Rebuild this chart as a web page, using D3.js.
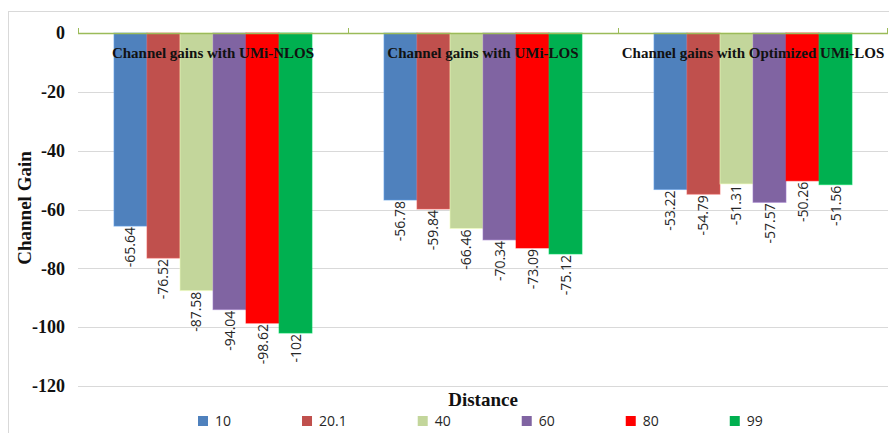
<!DOCTYPE html>
<html>
<head>
<meta charset="utf-8">
<script src="https://cdn.jsdelivr.net/npm/d3@7"></script>
<style>
  html, body { margin: 0; padding: 0; background: #fff; }
  svg { display: block; }
</style>
</head>
<body>
<svg id="chart" width="889" height="433"></svg>
<script>
// ---- data ----
const groups = ["Channel gains with UMi-NLOS", "Channel gains with UMi-LOS", "Channel gains with Optimized UMi-LOS"];
const seriesNames = ["10", "20.1", "40", "60", "80", "99"];
const seriesColors = ["#4f81bd", "#c0504d", "#c3d69b", "#8064a2", "#ff0000", "#00b050"];
const valuesNLOS = [-65.64, -76.52, -87.58, -94.04, -98.62, -102];
const valuesLOS = [-56.78, -59.84, -66.46, -70.34, -73.09, -75.12];
const valuesOptLOS = [-53.22, -54.79, -51.31, -57.57, -50.26, -51.56];
const valueLabels = [
  ["-65.64", "-76.52", "-87.58", "-94.04", "-98.62", "-102"],
  ["-56.78", "-59.84", "-66.46", "-70.34", "-73.09", "-75.12"],
  ["-53.22", "-54.79", "-51.31", "-57.57", "-50.26", "-51.56"]
];
const yTicks = [0, -20, -40, -60, -80, -100, -120];
const yTitle = "Channel Gain";
const xTitle = "Distance";

const groupValues = [valuesNLOS, valuesLOS, valuesOptLOS];
const table = groups.map((g, gi) => ({
  group: g,
  bars: seriesNames.map((s, si) => ({ series: s, value: groupValues[gi][si], label: valueLabels[gi][si], color: seriesColors[si] }))
}));

// ---- layout ----
const svg = d3.select("#chart");
const plot = { left: 78, right: 888, top: 33, bottom: 386 };

// outer border
svg.append("rect").attr("x", 8.5).attr("y", 11.5).attr("width", 900).attr("height", 500)
  .attr("fill", "none").attr("stroke", "#d9d9d9").attr("stroke-width", 1);

const y = d3.scaleLinear().domain([-120, 0]).range([plot.bottom, plot.top]);
const x0 = d3.scaleBand().domain(groups).range([plot.left, plot.right]).paddingInner(0).paddingOuter(0);
const x1 = d3.scaleBand().domain(seriesNames).range([0, x0.bandwidth()]).paddingInner(0).paddingOuter(1.09);

const serif = "'Liberation Serif', 'Times New Roman', serif";
const sans = "'Open Sans', 'Noto Sans', sans-serif";

// gridlines
svg.append("g").selectAll("line").data(yTicks.filter(d => d !== 0)).join("line")
  .attr("x1", plot.left).attr("x2", plot.right)
  .attr("y1", d => Math.round(y(d)) + 0.5).attr("y2", d => Math.round(y(d)) + 0.5)
  .attr("stroke", "#d9d9d9").attr("stroke-width", 1);

// y axis labels
const yAxis = d3.axisLeft(y).tickValues(yTicks).tickSize(0).tickPadding(0).tickFormat(d => d === 0 ? "0" : String(d));
const gy = svg.append("g").attr("transform", `translate(${plot.left - 13},0)`).call(yAxis);
gy.select(".domain").remove();
gy.selectAll("text").attr("font-family", serif).attr("font-weight", "bold").attr("font-size", 18).attr("fill", "#111");

// bars
const gGroups = svg.append("g").selectAll("g").data(table).join("g")
  .attr("transform", d => `translate(${x0(d.group)},0)`);

gGroups.selectAll("rect").data(d => d.bars).join("rect")
  .attr("x", d => x1(d.series))
  .attr("width", x1.bandwidth())
  .attr("y", y(0))
  .attr("height", d => y(d.value) - y(0))
  .attr("fill", d => d.color)
  .attr("stroke", d => d3.color(d.color).brighter(0.6))
  .attr("stroke-opacity", 0.6)
  .attr("stroke-width", 1);

// value labels
gGroups.selectAll("text.val").data(d => d.bars).join("text")
  .attr("class", "val")
  .attr("transform", d => `translate(${x1(d.series) + x1.bandwidth() / 2 + 5},${y(d.value) + 1}) rotate(-90)`)
  .attr("text-anchor", "end")
  .attr("font-family", sans).attr("font-size", 14).attr("fill", "#262626")
  .text(d => d.label);

// zero axis line and group tick marks
svg.append("line").attr("x1", plot.left).attr("x2", plot.right)
  .attr("y1", y(0) + 0.5).attr("y2", y(0) + 0.5)
  .attr("stroke", "#9bbb59").attr("stroke-width", 1.5);
const boundaries = groups.map(g => x0(g)).concat([plot.right - 1]);
svg.append("g").selectAll("line").data(boundaries).join("line")
  .attr("x1", d => d + 0.5).attr("x2", d => d + 0.5)
  .attr("y1", y(0) - 5).attr("y2", y(0))
  .attr("stroke", "#9bbb59").attr("stroke-width", 1);

// group labels
svg.append("g").selectAll("text").data(groups).join("text")
  .attr("x", d => x0(d) + x0.bandwidth() / 2)
  .attr("y", 58)
  .attr("text-anchor", "middle")
  .attr("font-family", serif).attr("font-weight", "bold").attr("font-size", 15).attr("fill", "#111")
  .text(d => d);

// axis titles
svg.append("text")
  .attr("transform", `translate(31,208) rotate(-90)`)
  .attr("text-anchor", "middle")
  .attr("font-family", serif).attr("font-weight", "bold").attr("font-size", 19).attr("fill", "#111")
  .text(yTitle);

svg.append("text")
  .attr("x", (plot.left + plot.right) / 2).attr("y", 406)
  .attr("text-anchor", "middle")
  .attr("font-family", serif).attr("font-weight", "bold").attr("font-size", 19).attr("fill", "#111")
  .text(xTitle);

// legend (sequential layout, fixed gap after each label)
const legend = svg.append("g");
let lx = 198;
seriesNames.forEach((s, i) => {
  legend.append("rect").attr("x", lx).attr("y", 416).attr("width", 10).attr("height", 10).attr("fill", seriesColors[i]);
  const t = legend.append("text").attr("x", lx + 17).attr("y", 426)
    .attr("font-family", sans).attr("font-size", 14).attr("fill", "#262626").text(s);
  lx += 17 + t.node().getComputedTextLength() + 71;
});
</script>
</body>
</html>
